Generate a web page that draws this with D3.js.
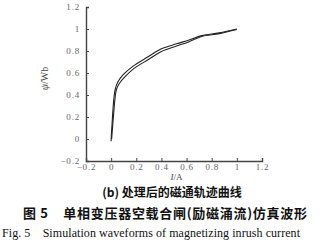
<!DOCTYPE html>
<html>
<head>
<meta charset="utf-8">
<script src="https://cdn.jsdelivr.net/npm/d3@7"></script>
<style>
  body { margin: 0; background: #fff; }
  svg { display: block; }
  text { white-space: pre; }
  .tick text { font-family: "Liberation Serif", serif; font-size: 9px; fill: #666; letter-spacing: 0.8px; }
</style>
</head>
<body>
<div id="chart"></div>
<script>
// Data: current I (A) and flux linkage psi (Wb)
const xTicks = [-0.2, 0, 0.2, 0.4, 0.6, 0.8, 1, 1.2];
const yTicks = [-0.2, 0, 0.2, 0.4, 0.6, 0.8, 1, 1.2];

// upper branch
const currentUp = [0, 0.002, 0.007, 0.014, 0.022, 0.032, 0.052, 0.092, 0.172, 0.29, 0.40, 0.52, 0.62, 0.72, 0.86, 1.0];
const fluxUp    = [-0.02, 0.05, 0.13, 0.26, 0.37, 0.45, 0.515, 0.58, 0.66, 0.745, 0.82, 0.865, 0.9, 0.94, 0.965, 1.0];
// lower branch
const currentDown = [1.0, 0.86, 0.72, 0.62, 0.52, 0.40, 0.30, 0.18, 0.105, 0.065, 0.042, 0.03, 0.02, 0.01, 0.004];
const fluxDown    = [0.995, 0.958, 0.932, 0.885, 0.845, 0.795, 0.725, 0.64, 0.56, 0.505, 0.45, 0.36, 0.23, 0.09, 0.0];

const W = 330, H = 242;
const MARGIN = { TOP: 7, LEFT: 86, RIGHT: 68, BOTTOM: 81 };
const WIDTH = W - MARGIN.LEFT - MARGIN.RIGHT;
const HEIGHT = H - MARGIN.TOP - MARGIN.BOTTOM;

const svg = d3.select('#chart').append('svg')
  .attr('width', W)
  .attr('height', H);

const g = svg.append('g')
  .attr('transform', `translate(${MARGIN.LEFT}, ${MARGIN.TOP})`);

const x = d3.scaleLinear().domain([-0.2, 1.2]).range([0, WIDTH]);
const y = d3.scaleLinear().domain([-0.2, 1.2]).range([HEIGHT, 0]);

const fmt = d => d === 0 ? '0' : d3.format('.1f')(d).replace('1.0', '1');

// axes, ticks pointing inside
const xAxis = g.append('g')
  .attr('transform', `translate(0, ${HEIGHT})`)
  .call(d3.axisBottom(x).tickValues(xTicks).tickSize(-3).tickPadding(3).tickFormat(fmt));

const yAxis = g.append('g')
  .call(d3.axisLeft(y).tickValues(yTicks).tickSize(-3).tickPadding(6).tickFormat(fmt));

[xAxis, yAxis].forEach(a => {
  a.select('.domain').attr('stroke', '#444').attr('stroke-width', 1.4);
  a.selectAll('.tick line').attr('stroke', '#444');
});

// curves
const line = d3.line()
  .x(d => x(d[0]))
  .y(d => y(d[1]))
  .curve(d3.curveCatmullRom);

const upPts = currentUp.map((c, i) => [c, fluxUp[i]]);
const downPts = currentDown.map((c, i) => [c, fluxDown[i]]);

[upPts, downPts].forEach(pts => {
  g.append('path')
    .datum(pts)
    .attr('fill', 'none')
    .attr('stroke', '#222')
    .attr('stroke-width', 1.1)
    .attr('d', line);
});

// axis titles
g.append('text')
  .attr('transform', `translate(${-38}, ${y(0.55)}) rotate(-90)`)
  .attr('text-anchor', 'middle')
  .style('font-family', '"Liberation Serif", serif')
  .style('font-size', '10px')
  .style('fill', '#444')
  .html('<tspan font-style="italic">ψ</tspan>/Wb');

g.append('text')
  .attr('x', x(0.52))
  .attr('y', HEIGHT + 19)
  .attr('text-anchor', 'middle')
  .style('font-family', '"Liberation Serif", serif')
  .style('font-size', '9px')
  .style('fill', '#444')
  .html('<tspan font-style="italic">I</tspan>/A');

// captions
svg.append('text')
  .attr('x', 172)
  .attr('y', 197)
  .attr('text-anchor', 'middle')
  .style('font-family', '"Noto Sans CJK SC", sans-serif')
  .style('font-size', '12px')
  .style('font-weight', 'bold')
  .style('fill', '#111')
  .text('(b) 处理后的磁通轨迹曲线');

svg.append('text')
  .attr('x', 23)
  .attr('y', 218)
  .attr('textLength', 284)
  .style('font-family', '"Noto Sans CJK SC", sans-serif')
  .style('font-size', '13px')
  .style('font-weight', 'bold')
  .style('fill', '#111')
  .text('图 5    单相变压器空载合闸(励磁涌流)仿真波形');

svg.append('text')
  .attr('x', 2)
  .attr('y', 237)
  .attr('textLength', 298)
  .style('font-family', '"Liberation Serif", serif')
  .style('font-size', '12px')
  .style('fill', '#111')
  .text('Fig. 5    Simulation waveforms of magnetizing inrush current');
</script>
</body>
</html>
